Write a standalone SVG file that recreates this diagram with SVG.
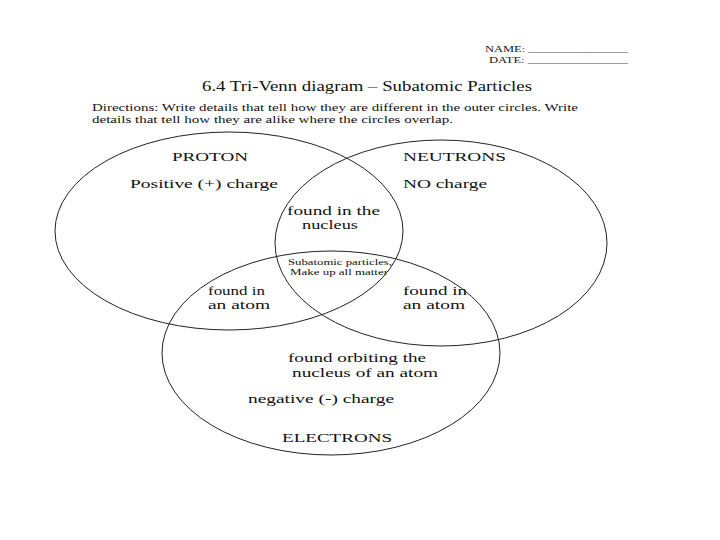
<svg xmlns="http://www.w3.org/2000/svg" width="720" height="540" viewBox="0 0 720 540">
<style>
text{font-family:'Liberation Serif','DejaVu Serif',serif;fill:#111;}
.c{fill:none;stroke:#222;stroke-width:1;}
.h{font-size:9px;}
.t{font-size:15px;}
.d{font-size:10px;}
.l{font-size:12px;}
.s{font-size:8.5px;}
</style>
<rect width="720" height="540" fill="#fff"/>
<g id="header" font-family="Liberation Serif, serif">
<text class="h" x="485" y="52" textLength="143" lengthAdjust="spacingAndGlyphs">NAME: ________________</text>
<text class="h" x="489" y="63" textLength="139" lengthAdjust="spacingAndGlyphs">DATE: ________________</text>
<text class="t" x="202" y="91" textLength="330" lengthAdjust="spacingAndGlyphs">6.4 Tri-Venn diagram – Subatomic Particles</text>
<text class="d" x="92" y="111" textLength="486" lengthAdjust="spacingAndGlyphs">Directions:  Write details that tell how they are different in the outer circles.  Write</text>
<text class="d" x="92" y="123" textLength="361" lengthAdjust="spacingAndGlyphs">details that tell how they are alike where the circles overlap.</text>
</g>
<g id="proton">
<ellipse class="c" cx="229" cy="231" rx="174" ry="99"/>
<text class="l" x="172" y="161" textLength="76" lengthAdjust="spacingAndGlyphs">PROTON</text>
<text class="l" x="130" y="188" textLength="148" lengthAdjust="spacingAndGlyphs">Positive (+) charge</text>
</g>
<g id="neutrons">
<ellipse class="c" cx="441" cy="243" rx="166" ry="103"/>
<text class="l" x="403" y="161" textLength="103" lengthAdjust="spacingAndGlyphs">NEUTRONS</text>
<text class="l" x="403" y="188" textLength="84" lengthAdjust="spacingAndGlyphs">NO charge</text>
</g>
<g id="electrons">
<ellipse class="c" cx="331" cy="353" rx="169" ry="102"/>
<text class="l" x="288" y="362" textLength="138" lengthAdjust="spacingAndGlyphs">found orbiting the</text>
<text class="l" x="292" y="377" textLength="146" lengthAdjust="spacingAndGlyphs">nucleus of an atom</text>
<text class="l" x="248" y="403" textLength="146" lengthAdjust="spacingAndGlyphs">negative (-) charge</text>
<text class="l" x="282" y="442" textLength="110" lengthAdjust="spacingAndGlyphs">ELECTRONS</text>
</g>
<g id="proton-neutrons">
<text class="l" x="287" y="215" textLength="93" lengthAdjust="spacingAndGlyphs">found in the</text>
<text class="l" x="302" y="229" textLength="56" lengthAdjust="spacingAndGlyphs">nucleus</text>
</g>
<g id="all-three">
<text class="s" x="288" y="265" textLength="104" lengthAdjust="spacingAndGlyphs">Subatomic particles,</text>
<text class="s" x="290" y="275" textLength="98" lengthAdjust="spacingAndGlyphs">Make up all matter</text>
</g>
<g id="proton-electrons">
<text class="l" x="208" y="295" textLength="57" lengthAdjust="spacingAndGlyphs">found in</text>
<text class="l" x="208" y="309" textLength="62" lengthAdjust="spacingAndGlyphs">an atom</text>
</g>
<g id="neutrons-electrons">
<text class="l" x="403" y="295" textLength="64" lengthAdjust="spacingAndGlyphs">found in</text>
<text class="l" x="403" y="309" textLength="62" lengthAdjust="spacingAndGlyphs">an atom</text>
</g>
<g id="connectors"/>
</svg>
